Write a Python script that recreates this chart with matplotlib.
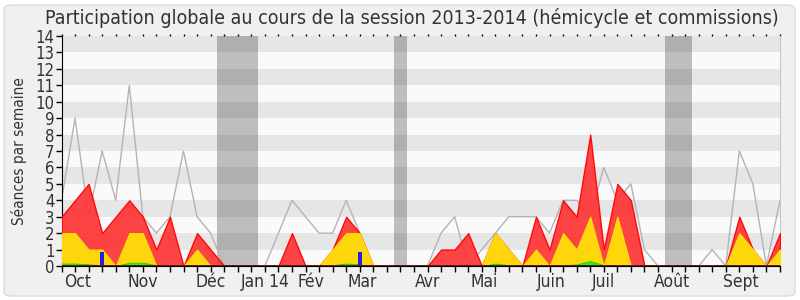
import matplotlib
matplotlib.use("Agg")
import matplotlib.pyplot as plt
from matplotlib.patches import FancyBboxPatch
from matplotlib.transforms import blended_transform_factory
import numpy as np

# ---------------- data ----------------
weeks = list(range(54))
gray_total = [4, 9, 3, 7, 4, 11, 3, 2, 3, 7, 3, 2, 0, 0, 0, 0, 2, 4, 3, 2,
              2, 4, 2, 0, 0, 0, 0, 0, 2, 3, 0, 1, 2, 3, 3, 3, 2, 4, 4, 3,
              6, 4, 5, 1, 0, 0, 0, 0, 1, 0, 7, 5, 0, 4]
red_values = [3, 4, 5, 2, 3, 4, 3, 1, 3, 0, 2, 1, 0, 0, 0, 0, 0, 2, 0, 0,
              1, 3, 2, 0, 0, 0, 0, 0, 1, 1, 2, 0, 2, 1, 0, 3, 1, 4, 3, 8,
              1, 5, 4, 0, 0, 0, 0, 0, 0, 0, 3, 1, 0, 2]
yellow_values = [2, 2, 1, 1, 0, 2, 2, 0, 0, 0, 1, 0, 0, 0, 0, 0, 0, 0, 0, 0,
                 1, 2, 2, 0, 0, 0, 0, 0, 0, 0, 0, 0, 2, 1, 0, 1, 0, 2, 1, 3,
                 0, 3, 0, 0, 0, 0, 0, 0, 0, 0, 2, 1, 0, 1]
green_values = [0.15, 0.15, 0.1, 0.05, 0, 0.2, 0.2, 0.05, 0, 0, 0, 0, 0, 0, 0, 0,
                0, 0, 0, 0, 0.05, 0.15, 0.1, 0, 0, 0, 0, 0, 0, 0, 0, 0, 0.15,
                0.05, 0, 0, 0, 0.05, 0.1, 0.3, 0.05, 0.05, 0, 0, 0, 0, 0, 0, 0,
                0, 0.05, 0.05, 0, 0.05]
blue_weeks = [3, 22]
blue_values = [0.85, 0.85]
vacations = [(11.5, 14.5), (24.5, 25.5), (44.5, 46.5)]
month_labels = ["Oct", "Nov", "Déc", "Jan 14", "Fév", "Mar", "Avr", "Mai",
                "Juin", "Juil", "Août", "Sept"]
month_pos = [1.16, 6.03, 11.0, 15.06, 18.4, 22.2, 27.0, 31.2, 36.1, 40.0, 45.0, 50.1]
title = "Participation globale au cours de la session 2013-2014 (hémicycle et commissions)"
ylabel = "Séances par semaine"

# ---------------- figure ----------------
plt.rcParams['font.family'] = ['DejaVu Sans']
fig = plt.figure(figsize=(8, 3), dpi=100)
fig.patch.set_facecolor("white")
frame = FancyBboxPatch((4 / 800, 4 / 300), 791 / 800, 291 / 300,
                       boxstyle="round,pad=0,rounding_size=0.012",
                       transform=fig.transFigure, facecolor="#f0f0f0",
                       edgecolor="#dcdcdc", linewidth=1, zorder=-5)
fig.patches.append(frame)

ax = fig.add_axes([61.5 / 800, 1 - 266 / 300, (780 - 61.5) / 800, 230 / 300])
ax.set_zorder(2)
ax.set_facecolor("#fafafa")
ax.set_xlim(0, 53)
ax.set_ylim(0, 14)

for k in range(1, 14, 2):
    ax.axhspan(k, k + 1, color="#e6e6e6", lw=0, zorder=0)
for a, b in vacations:
    ax.axvspan(a, b, color="black", alpha=0.24, lw=0, zorder=1)

x = np.array(weeks)
ax.plot(x, gray_total, color="#b4b4b4", lw=1, zorder=2)
ax.fill_between(x, 0, red_values, facecolor="#ff3434", alpha=0.92,
                edgecolor="#ff0000", lw=1, zorder=3)
ax.fill_between(x, 0, yellow_values, facecolor="#ffd60c",
                edgecolor="#f5e400", lw=0.8, zorder=4)
ax.fill_between(x, 0, green_values, facecolor="#22ee22",
                edgecolor="#00dd00", lw=0.6, zorder=5)
ax.bar(blue_weeks, blue_values, width=0.3, color="#2222dd", zorder=6)
ax.axhline(0, color="#6a1a10", lw=1.4, zorder=7)

# axes styling
ax.spines["top"].set_visible(False)
ax.spines["right"].set_color("#c8c8c8")
ax.spines["left"].set_color("black")
ax.spines["bottom"].set_color("black")
ax.spines["bottom"].set_zorder(8)
ax.set_xticks(weeks)
ax.set_xticklabels([])
ax.tick_params(axis="x", which="major", length=4, width=1, color="black",
               top=True, direction="out")
for t in ax.xaxis.get_major_ticks():
    t.tick2line.set_markersize(1.5)
    t.tick2line.set_markeredgewidth(1)

trans = blended_transform_factory(ax.transData, ax.transAxes)
for pos, lab in zip(month_pos, month_labels):
    ax.text(pos, -0.03, lab, transform=trans, ha="center", va="top",
            fontsize=12.5, color="#333333", fontstretch="condensed")

ax.set_yticks(range(15))
ax.tick_params(axis="y", length=4, width=1, pad=1, labelsize=12,
               labelcolor="#333333")
for lab in ax.get_yticklabels():
    lab.set_fontstretch("condensed")

ax.set_ylabel(ylabel, fontsize=11, color="#333333", labelpad=6,
              fontstretch="condensed")
fig.text(412 / 800, 1 - 18 / 300, title, ha="center", va="center",
         fontsize=14, color="#333333", fontstretch="condensed")

fig.savefig("out.png", dpi=100)
